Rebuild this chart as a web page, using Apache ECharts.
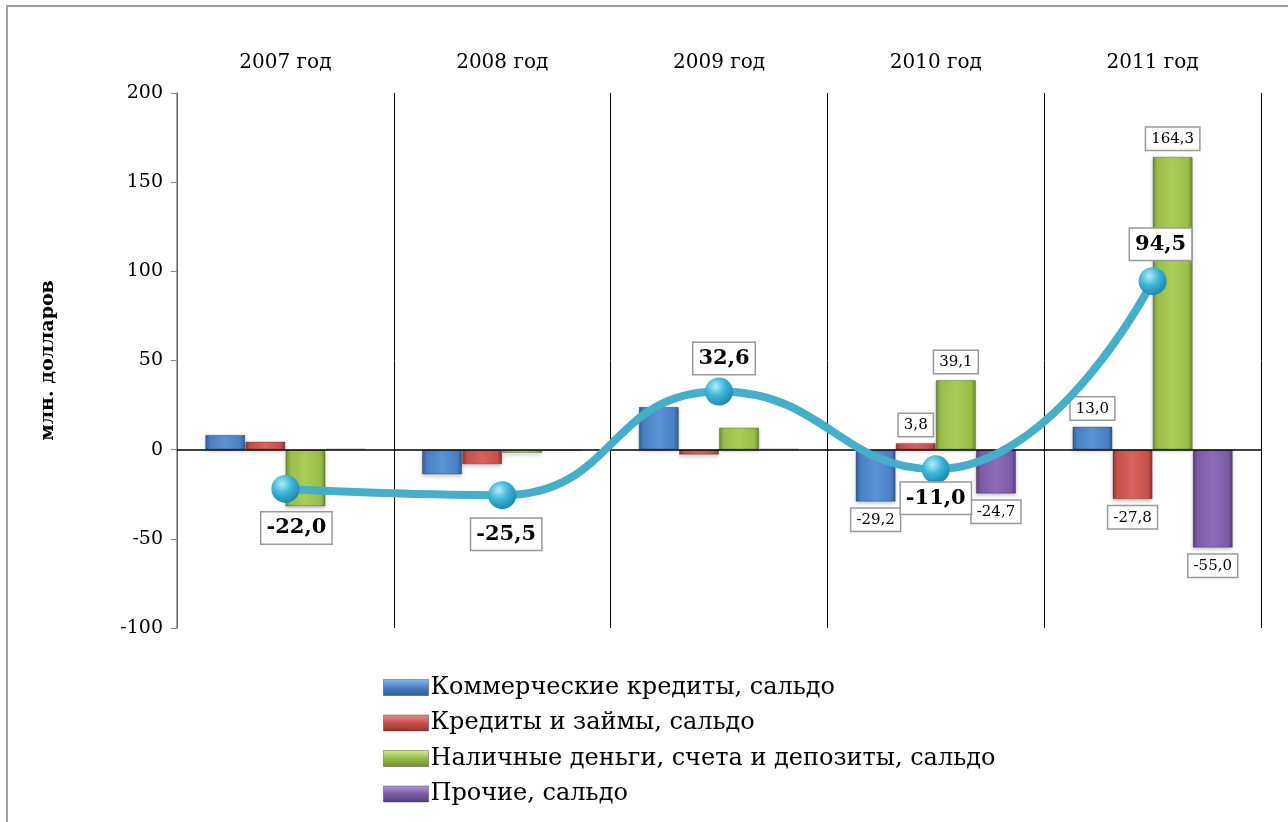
<!DOCTYPE html>
<html><head><meta charset="utf-8">
<script src="https://cdn.jsdelivr.net/npm/echarts@6/dist/echarts.min.js"></script>
<style>html,body{margin:0;padding:0;background:#fff}#c{width:1288px;height:822px}</style>
</head><body><div id="c"></div>
<script>
const categories = ['2007 год','2008 год','2009 год','2010 год','2011 год'];
const seriesNames = ['Коммерческие кредиты, сальдо','Кредиты и займы, сальдо','Наличные деньги, счета и депозиты, сальдо','Прочие, сальдо'];
const commercial = [8.4, -13.9, 24.0, -29.2, 13.0];
const loans = [4.6, -8.2, -2.8, 3.8, -27.8];
const cash = [-31.8, -1.8, 12.5, 39.1, 164.3];
const other = [0.5, -0.5, 0.5, -24.7, -55.0];
const total = [-22.0, -25.5, 32.6, -11.0, 94.5];
const yTicks = [-100, -50, 0, 50, 100, 150, 200];
const labelledYears = [3, 4];
// label placement style for the total line (pixel offsets from marker centre)
const totalLabelOffsets = [[11,39],[4,39],[5,-33],[0,29],[8,-37]];

const FONT = '"DejaVu Serif","Liberation Serif",serif';
function fmt(v){ return v.toFixed(1).replace('.', ','); }
function barGrad(c1, c2, c3){
  return {type:'linear',x:0,y:0,x2:1,y2:0,colorStops:[{offset:0,color:c3},{offset:0.12,color:c1},{offset:0.5,color:c2},{offset:0.88,color:c1},{offset:1,color:c3}]};
}
const barColors = [
  barGrad('#4a7fc4','#5b93d6','#2f5c94'),
  barGrad('#c9504c','#d9635f','#93322f'),
  barGrad('#98bd4a','#a9cf55','#6e8c2e'),
  barGrad('#7c5aa6','#8d6cb8','#563c78')
];
function vGrad(top, mid, bot){
  return {type:'linear',x:0,y:0,x2:0,y2:1,colorStops:[{offset:0,color:top},{offset:0.5,color:mid},{offset:1,color:bot}]};
}
const legendColors = [vGrad('#8fb8ea','#4a7fc4','#2f5c94'), vGrad('#f0908c','#c9504c','#93322f'), vGrad('#d4ef8c','#98bd4a','#6e8c2e'), vGrad('#b79ad8','#7c5aa6','#563c78')];
const boxLabel = {
  fontFamily: FONT, fontSize: 15, color:'#000',
  backgroundColor:'#fff', borderColor:'#999', borderWidth:1.5, padding:[4,5,3,5]
};
function barSeries(idx, data){
  return {
    name: seriesNames[idx], type:'bar', data: data.map((v,i)=>{
      const o = {value:v};
      if (labelledYears.includes(i)) {
        o.label = Object.assign({show:true, position: v>=0?'top':'bottom', distance:7, formatter: fmt(v)}, boxLabel);
      }
      return o;
    }),
    barGap:'0%', barCategoryGap:'26%',
    itemStyle:{color: barColors[idx], borderColor:'rgba(0,0,0,0.25)', borderWidth:1, shadowColor:'rgba(0,0,0,0.25)', shadowBlur:4, shadowOffsetY:2},
    z:2
  };
}
const chart = echarts.init(document.getElementById('c'));
chart.setOption({
  animation:false,
  graphic:[{type:'rect', shape:{x:7,y:6,width:1300,height:900}, style:{fill:'none', stroke:'#a0a0a0', lineWidth:2}, silent:true}],
  grid:{left:177, right:27, top:93, bottom:194},
  legend:{
    orient:'vertical', left:383, top:675, padding:0, itemWidth:45, itemHeight:16, itemGap:10.5, icon:'rect',
    data: seriesNames.map((n,i)=>({name:n, itemStyle:{color:legendColors[i], borderColor:'rgba(0,0,0,0.3)', borderWidth:1}})),
    textStyle:{fontFamily:FONT, fontSize:24, lineHeight:25, color:'#000', padding:[0,0,0,-3]}
  },
  xAxis:{
    type:'category', position:'top', data:categories,
    axisLine:{show:false}, axisTick:{show:false},
    axisLabel:{fontFamily:FONT, fontSize:20, color:'#000', margin:20},
    splitLine:{show:true, lineStyle:{color:'#000', width:1}}
  },
  yAxis:{
    type:'value', min:yTicks[0], max:yTicks[yTicks.length-1], interval:50,
    name:'млн. долларов', nameLocation:'middle', nameGap:119,
    nameTextStyle:{fontFamily:FONT, fontSize:19, fontWeight:'bold', color:'#000'},
    axisLine:{show:true, lineStyle:{color:'#888', width:1.5}},
    axisTick:{show:true, length:6, lineStyle:{color:'#888'}},
    axisLabel:{fontFamily:FONT, fontSize:19, color:'#000', margin:14},
    splitLine:{show:false}
  },
  series:[
    barSeries(0, commercial), barSeries(1, loans), barSeries(2, cash), barSeries(3, other),
    {
      name:'Итого', type:'line', data: total.map((v,i)=>({value:v, label:{position:'inside', offset: totalLabelOffsets[i]}})),
      smooth:0.5, z:5,
      lineStyle:{color:'#45aec8', width:8},
      symbol:'circle', symbolSize:28,
      itemStyle:{color:{type:'radial',x:0.38,y:0.32,r:0.75,colorStops:[{offset:0,color:'#b5ecfb'},{offset:0.45,color:'#3db6da'},{offset:1,color:'#1782a6'}]}, borderWidth:0},
      label:{show:true, formatter:p=>fmt(p.value), fontFamily:FONT, fontSize:21, fontWeight:'bold', color:'#000',
        backgroundColor:'#fff', borderColor:'#999', borderWidth:1.5, padding:[6,5,4,5]},
      markLine:{silent:true, symbol:'none', label:{show:false}, lineStyle:{color:'#000', width:1.5, type:'solid'}, data:[{yAxis:0}]}
    }
  ]
});
</script></body></html>
